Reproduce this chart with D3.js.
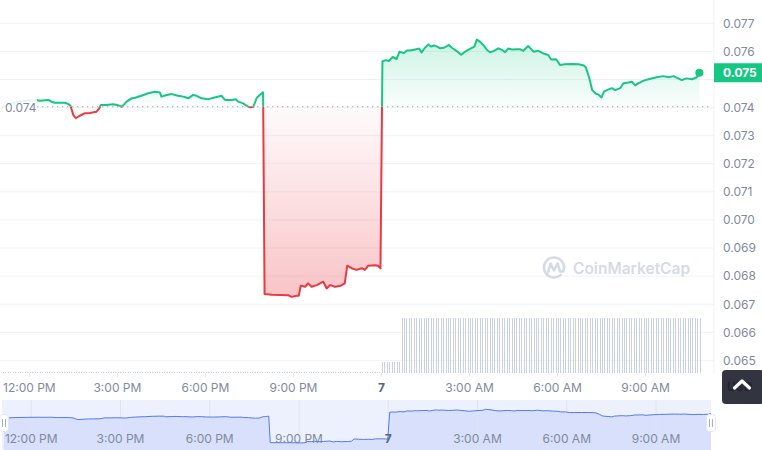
<!DOCTYPE html>
<html>
<head>
<meta charset="utf-8">
<script src="https://cdn.jsdelivr.net/npm/d3@7"></script>
<style>
  body { margin: 0; background: #fff; }
  svg { display: block; font-family: Inter, "Noto Sans", sans-serif; }
</style>
</head>
<body>
<svg id="price_chart"></svg>
<script>
// Price history ("day hh:mm")
const times = [
    "06 11:05", "06 11:25", "06 11:52", "06 12:16", "06 12:22", "06 12:40", "06 12:46", "06 12:53", "06 13:14", "06 13:20",
    "06 13:25", "06 13:31", "06 13:36", "06 13:44", "06 13:55", "06 14:05", "06 14:18", "06 14:24", "06 14:27", "06 14:39",
    "06 14:52", "06 15:03", "06 15:10", "06 15:20", "06 15:30", "06 15:37", "06 15:50", "06 16:04", "06 16:18", "06 16:28",
    "06 16:31", "06 16:42", "06 16:52", "06 17:05", "06 17:16", "06 17:26", "06 17:36", "06 17:43", "06 17:53", "06 18:07",
    "06 18:20", "06 18:34", "06 18:41", "06 18:55", "06 19:03", "06 19:08", "06 19:18", "06 19:25", "06 19:32", "06 19:39",
    "06 19:46", "06 19:52", "06 19:59", "06 20:02", "06 20:17", "06 20:50", "06 20:57", "06 21:08", "06 21:12", "06 21:16",
    "06 21:25", "06 21:31", "06 21:38", "06 21:49", "06 22:02", "06 22:09", "06 22:16", "06 22:26", "06 22:38", "06 22:46",
    "06 22:51", "06 23:00", "06 23:10", "06 23:21", "06 23:27", "06 23:34", "06 23:48", "06 23:54", "06 23:59", "07 00:03",
    "07 00:10", "07 00:16", "07 00:24", "07 00:32", "07 00:38", "07 00:47", "07 00:53", "07 00:59", "07 01:10", "07 01:18",
    "07 01:23", "07 01:30", "07 01:37", "07 01:42", "07 01:48", "07 01:55", "07 02:01", "07 02:09", "07 02:19", "07 02:25",
    "07 02:35", "07 02:44", "07 02:52", "07 03:03", "07 03:11", "07 03:16", "07 03:23", "07 03:29", "07 03:37", "07 03:43",
    "07 03:50", "07 04:00", "07 04:08", "07 04:14", "07 04:20", "07 04:28", "07 04:38", "07 04:44", "07 04:51", "07 05:01",
    "07 05:12", "07 05:22", "07 05:33", "07 05:42", "07 05:48", "07 05:58", "07 06:06", "07 06:16", "07 06:30", "07 06:44",
    "07 06:55", "07 06:59", "07 07:06", "07 07:12", "07 07:19", "07 07:25", "07 07:31", "07 07:36", "07 07:42", "07 07:52",
    "07 07:59", "07 08:09", "07 08:16", "07 08:26", "07 08:33", "07 08:40", "07 08:46", "07 08:56", "07 09:07", "07 09:24",
    "07 09:37", "07 09:48", "07 09:58", "07 10:15", "07 10:25", "07 10:36", "07 10:46", "07 10:51"
];

const prices = [
    0.07400, 0.07416, 0.07423, 0.07427, 0.07424, 0.07427, 0.07421, 0.07417, 0.07417, 0.07413,
    0.07407, 0.07373, 0.07362, 0.07371, 0.07380, 0.07381, 0.07385, 0.07397, 0.07409, 0.07409,
    0.07412, 0.07408, 0.07403, 0.07421, 0.07433, 0.07435, 0.07442, 0.07451, 0.07456, 0.07454,
    0.07439, 0.07445, 0.07448, 0.07442, 0.07439, 0.07433, 0.07445, 0.07442, 0.07433, 0.07430,
    0.07436, 0.07442, 0.07427, 0.07427, 0.07430, 0.07421, 0.07415, 0.07407, 0.07401, 0.07403,
    0.07435, 0.07445, 0.07454, 0.06736, 0.06734, 0.06732, 0.06726, 0.06730, 0.06730, 0.06766,
    0.06762, 0.06774, 0.06762, 0.06768, 0.06780, 0.06756, 0.06768, 0.06762, 0.06766, 0.06774,
    0.06837, 0.06828, 0.06822, 0.06828, 0.06822, 0.06837, 0.06839, 0.06837, 0.06828, 0.07564,
    0.07569, 0.07566, 0.07580, 0.07573, 0.07599, 0.07594, 0.07603, 0.07603, 0.07607, 0.07610,
    0.07596, 0.07613, 0.07625, 0.07617, 0.07621, 0.07617, 0.07611, 0.07613, 0.07623, 0.07613,
    0.07601, 0.07588, 0.07599, 0.07610, 0.07617, 0.07642, 0.07634, 0.07623, 0.07605, 0.07597,
    0.07601, 0.07611, 0.07605, 0.07597, 0.07610, 0.07607, 0.07608, 0.07608, 0.07602, 0.07619,
    0.07599, 0.07602, 0.07592, 0.07587, 0.07571, 0.07572, 0.07552, 0.07554, 0.07555, 0.07554,
    0.07550, 0.07543, 0.07505, 0.07462, 0.07450, 0.07446, 0.07436, 0.07457, 0.07462, 0.07469,
    0.07462, 0.07469, 0.07487, 0.07489, 0.07492, 0.07479, 0.07486, 0.07495, 0.07501, 0.07508,
    0.07512, 0.07508, 0.07512, 0.07498, 0.07504, 0.07501, 0.07508, 0.07524
];

// Opening price (dotted reference line)
const openPrice = 0.07403;

// Visible window of the main chart and its price range
const viewRange = ["06 11:01", "07 11:21"];
const priceRange = [0.06455, 0.07783];

// Volume bars: one bar every 5 minutes, heights read as runs of equal bars
const volumeStart = "06 11:07";
const volumeStepMinutes = 5;
const volumeRuns = [
    { count: 155, value: 0.1 },
    { count: 8, value: 1 },
    { count: 123, value: 5 }
];

function drawPriceChart(svgId) {
    const parse = d3.timeParse("%d %H:%M");
    const data = times.map((t, i) => ({ time: parse(t), price: prices[i] }));

    const volumeData = [];
    let slot = 0;
    volumeRuns.forEach(run => {
        for (let i = 0; i < run.count; i++) {
            volumeData.push({
                time: d3.timeMinute.offset(parse(volumeStart), slot * volumeStepMinutes),
                value: run.value
            });
            slot++;
        }
    });

    const width = 762, height = 450;
    const plotRight = 714, plotBottom = 373;

    const green = "#16c784", red = "#ea3943";
    const gridColor = "#eff2f5", labelColor = "#808a9d";

    const svg = d3.select(`#${svgId}`)
        .attr("width", width)
        .attr("height", height);

    // Scales
    const x = d3.scaleTime()
        .domain(viewRange.map(parse))
        .range([0, plotRight]);

    const y = d3.scaleLinear()
        .domain(priceRange)
        .range([plotBottom, 0]);

    const yVol = d3.scaleLinear()
        .domain([0, d3.max(volumeData, d => d.value)])
        .range([plotBottom, 318]);

    const yBase = y(openPrice);

    const tickFormat = d => d.getHours() === 0 ? d3.timeFormat("%-d")(d) : d3.timeFormat("%-I:%M %p")(d);

    // Gradients and clips
    const defs = svg.append("defs");

    const gUp = defs.append("linearGradient")
        .attr("id", "grad-up")
        .attr("gradientUnits", "userSpaceOnUse")
        .attr("x1", 0).attr("x2", 0)
        .attr("y1", y(d3.max(prices))).attr("y2", yBase);
    gUp.append("stop").attr("offset", 0).attr("stop-color", green).attr("stop-opacity", 0.22);
    gUp.append("stop").attr("offset", 1).attr("stop-color", green).attr("stop-opacity", 0.02);

    const gDown = defs.append("linearGradient")
        .attr("id", "grad-down")
        .attr("gradientUnits", "userSpaceOnUse")
        .attr("x1", 0).attr("x2", 0)
        .attr("y1", yBase).attr("y2", y(d3.min(prices)));
    gDown.append("stop").attr("offset", 0).attr("stop-color", red).attr("stop-opacity", 0.02);
    gDown.append("stop").attr("offset", 1).attr("stop-color", red).attr("stop-opacity", 0.3);

    defs.append("clipPath").attr("id", "clip-up")
        .append("rect").attr("x", 0).attr("y", 0).attr("width", plotRight).attr("height", yBase);
    defs.append("clipPath").attr("id", "clip-down")
        .append("rect").attr("x", 0).attr("y", yBase).attr("width", plotRight).attr("height", plotBottom - yBase);

    // Horizontal gridlines
    svg.append("g")
        .selectAll("line")
        .data(y.ticks(12))
        .enter().append("line")
        .attr("x1", 0)
        .attr("x2", plotRight)
        .attr("y1", d => y(d))
        .attr("y2", d => y(d))
        .attr("stroke", gridColor);

    // Right border of plot
    svg.append("line")
        .attr("x1", plotRight).attr("x2", plotRight)
        .attr("y1", 0).attr("y2", plotBottom)
        .attr("stroke", gridColor);

    // Watermark
    const wm = svg.append("g")
        .attr("transform", "translate(554,267.5)")
        .attr("fill", "none")
        .attr("stroke", "#d5dbe6")
        .attr("stroke-width", 2.6)
        .attr("stroke-linecap", "round")
        .attr("stroke-linejoin", "round");
    wm.append("path").attr("d", d3.arc()({ innerRadius: 10, outerRadius: 10, startAngle: 2.4, endAngle: 2 * Math.PI + 1.9 }));
    wm.append("path").attr("d", "M-6,5 L-3.5,-4 L0,3 L3.5,-4 L6,4 L9,4");
    svg.append("text")
        .attr("x", 573)
        .attr("y", 274)
        .attr("font-size", "15.5px")
        .attr("font-weight", 600)
        .attr("fill", "#d5dbe6")
        .text("CoinMarketCap");

    // Volume bars
    svg.append("g")
        .selectAll("rect")
        .data(volumeData)
        .enter().append("rect")
        .attr("x", d => Math.round(x(d.time)))
        .attr("width", 1)
        .attr("y", d => yVol(d.value))
        .attr("height", d => plotBottom - yVol(d.value))
        .attr("fill", "#c9d1e2");

    // Areas and line, split at the opening price
    const area = d3.area()
        .x(d => x(d.time))
        .y0(yBase)
        .y1(d => y(d.price));

    const line = d3.line()
        .x(d => x(d.time))
        .y(d => y(d.price));

    svg.append("path")
        .datum(data)
        .attr("clip-path", "url(#clip-up)")
        .attr("fill", "url(#grad-up)")
        .attr("d", area);

    svg.append("path")
        .datum(data)
        .attr("clip-path", "url(#clip-down)")
        .attr("fill", "url(#grad-down)")
        .attr("d", area);

    svg.append("path")
        .datum(data)
        .attr("clip-path", "url(#clip-up)")
        .attr("fill", "none")
        .attr("stroke", green)
        .attr("stroke-width", 2)
        .attr("stroke-linejoin", "round")
        .attr("d", line);

    svg.append("path")
        .datum(data)
        .attr("clip-path", "url(#clip-down)")
        .attr("fill", "none")
        .attr("stroke", red)
        .attr("stroke-width", 2)
        .attr("stroke-linejoin", "round")
        .attr("d", line);

    // Opening price label (covers the start of the line)
    svg.append("rect")
        .attr("x", 0)
        .attr("y", yBase - 10)
        .attr("width", 37)
        .attr("height", 21)
        .attr("fill", "#fff")
        .attr("opacity", 0.88);

    svg.append("text")
        .attr("x", 5)
        .attr("y", yBase + 1.5)
        .attr("dy", "0.35em")
        .attr("font-size", "12px")
        .attr("fill", labelColor)
        .text(d3.format(".3f")(openPrice));

    // Dotted opening price line
    svg.append("line")
        .attr("x1", 37)
        .attr("x2", plotRight - 2)
        .attr("y1", yBase)
        .attr("y2", yBase)
        .attr("stroke", "#9aa1b2")
        .attr("stroke-width", 1.2)
        .attr("stroke-dasharray", "1.3,3.7");

    // Last price dot
    const last = data[data.length - 1];
    svg.append("circle")
        .attr("cx", x(last.time))
        .attr("cy", y(last.price))
        .attr("r", 4)
        .attr("fill", last.price >= openPrice ? green : red);

    // Y axis (right); the tick hidden behind the price badge is not drawn
    const badgeY = y(last.price);
    const yAxis = svg.append("g")
        .attr("transform", `translate(${plotRight},0)`)
        .call(d3.axisRight(y).ticks(12).tickFormat(d3.format(".3f")).tickSize(0).tickPadding(9));
    yAxis.select(".domain").remove();
    yAxis.selectAll(".tick")
        .filter(d => Math.abs(y(d) - badgeY) < 14)
        .remove();
    yAxis.selectAll("text")
        .attr("font-family", "Inter, sans-serif")
        .attr("font-size", "12px")
        .attr("fill", labelColor);

    // Last price badge
    svg.append("rect")
        .attr("x", plotRight)
        .attr("y", badgeY - 9.5)
        .attr("width", width - plotRight)
        .attr("height", 19)
        .attr("fill", green);
    svg.append("text")
        .attr("x", plotRight + 9)
        .attr("y", badgeY)
        .attr("dy", "0.35em")
        .attr("font-size", "12px")
        .attr("font-weight", 700)
        .attr("fill", "#fff")
        .text(d3.format(".3f")(last.price));

    // X axis
    const xAxis = svg.append("g")
        .attr("transform", `translate(0,${plotBottom})`)
        .call(d3.axisBottom(x).ticks(d3.timeHour.every(3)).tickFormat(tickFormat).tickSize(4).tickPadding(6));
    xAxis.select(".domain").remove();
    xAxis.selectAll("line").attr("stroke", "#e3e7ee");
    xAxis.selectAll("text")
        .attr("font-family", "Inter, sans-serif")
        .attr("font-size", "12px")
        .attr("fill", labelColor)
        .filter(d => d.getHours() === 0)
        .attr("font-weight", 700)
        .attr("fill", "#58667e");

    // Navigator
    const navTop = 400;
    const xNav = d3.scaleTime()
        .domain(d3.extent(data, d => d.time))
        .range([4, 711]);
    const yNav = d3.scaleLinear()
        .domain(d3.extent(prices))
        .range([443, 409.3]);

    const nav = svg.append("g");

    nav.append("rect")
        .attr("x", xNav.range()[0] - 2)
        .attr("y", navTop)
        .attr("width", xNav.range()[1] - xNav.range()[0] + 2)
        .attr("height", height - navTop)
        .attr("fill", "#edf1fd");

    nav.append("path")
        .datum(data)
        .attr("fill", "#d8e0fb")
        .attr("d", d3.area().x(d => xNav(d.time)).y0(height).y1(d => yNav(d.price)));

    const navTicks = xNav.ticks(d3.timeHour.every(3));
    nav.selectAll(".nav-grid")
        .data(navTicks)
        .enter().append("line")
        .attr("class", "nav-grid")
        .attr("x1", d => xNav(d)).attr("x2", d => xNav(d))
        .attr("y1", navTop).attr("y2", height)
        .attr("stroke", "#dce3f4");

    nav.append("path")
        .datum(data)
        .attr("fill", "none")
        .attr("stroke", "#5479f2")
        .attr("stroke-width", 1)
        .attr("d", d3.line().x(d => xNav(d.time)).y(d => yNav(d.price)));

    nav.selectAll(".nav-label")
        .data(navTicks)
        .enter().append("text")
        .attr("class", "nav-label")
        .attr("x", d => xNav(d))
        .attr("y", 438.5)
        .attr("dy", "0.35em")
        .attr("text-anchor", "middle")
        .attr("font-size", "12px")
        .attr("fill", d => d.getHours() === 0 ? "#58667e" : labelColor)
        .attr("font-weight", d => d.getHours() === 0 ? 700 : 400)
        .text(tickFormat);

    // Navigator handles
    const handles = nav.selectAll(".handle")
        .data(xNav.range())
        .enter().append("g")
        .attr("class", "handle")
        .attr("transform", d => `translate(${d},423)`);
    handles.append("rect")
        .attr("x", -4.5).attr("y", -8.5)
        .attr("width", 9).attr("height", 17)
        .attr("rx", 3)
        .attr("fill", "#fff")
        .attr("stroke", "#e3e7ef");
    handles.selectAll("line")
        .data([-1.5, 1.5])
        .enter().append("line")
        .attr("x1", d => d).attr("x2", d => d)
        .attr("y1", -4).attr("y2", 4)
        .attr("stroke", "#a6b0c3");

    // Scroll-to-top button
    svg.append("text")
        .attr("x", 727)
        .attr("y", 391)
        .attr("font-size", "12px")
        .attr("font-weight", 700)
        .attr("fill", "#222531")
        .text("USD");
    svg.append("rect")
        .attr("x", 722)
        .attr("y", 370)
        .attr("width", 42)
        .attr("height", 34)
        .attr("rx", 4)
        .attr("fill", "#222531")
        .attr("opacity", 0.93);
    svg.append("path")
        .attr("d", "M734.5,388 L742,381 L749.5,388")
        .attr("fill", "none")
        .attr("stroke", "#fff")
        .attr("stroke-width", 3.2)
        .attr("stroke-linecap", "round")
        .attr("stroke-linejoin", "round");
}

drawPriceChart("price_chart");
</script>
</body>
</html>
